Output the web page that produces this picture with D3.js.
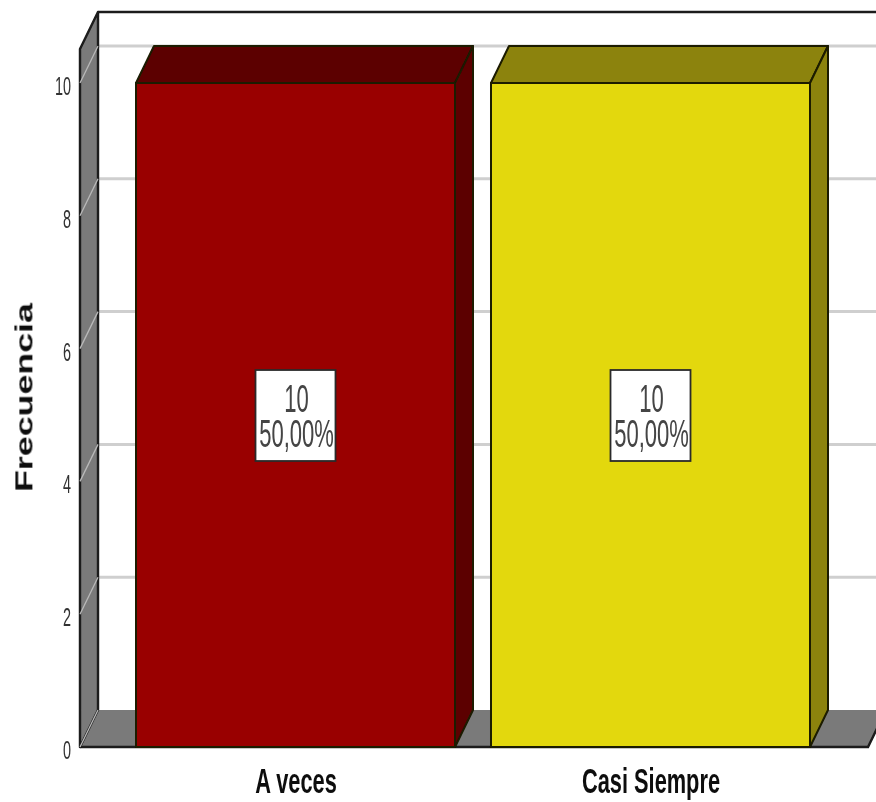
<!DOCTYPE html>
<html><head><meta charset="utf-8">
<script src="https://cdn.jsdelivr.net/npm/d3@7"></script>
<style>html,body{margin:0;padding:0;background:#fff}svg{display:block}text{font-family:"Liberation Sans",Arial,sans-serif;font-size:20px}</style>
</head><body><div id="chart"></div>
<script>
const categories = ["A veces", "Casi Siempre"];
const frequencies = [10, 10];
const percentLabels = ["50,00%", "50,00%"];
const tickValues = [0, 2, 4, 6, 8, 10];
const axisTitle = "Frecuencia";
const frontColors = ["#990000", "#e3d80f"];
const shadeColors = ["#5c0000", "#8c830a"];

const W = 876, H = 802, dx = 18, dy = -37;
const svg = d3.select("#chart").append("svg").attr("width", W).attr("height", H);
const defs = svg.append("defs");
defs.append("filter").attr("id", "soft").attr("x", "-5%").attr("y", "-5%").attr("width", "110%").attr("height", "110%")
  .append("feGaussianBlur").attr("stdDeviation", 0.5);
const root = svg.append("g").attr("filter", "url(#soft)");

const y = d3.scaleLinear().domain([0, 10]).range([747, 83]);
const x = d3.scaleBand().domain(categories).range([136, 810]).paddingInner(0.1014).paddingOuter(0);
const left = 80, floorEnd = 868;
const poly = pts => "M" + pts.map(p => p.join(",")).join("L") + "Z";
const line = d3.line();
const stroke = "#1a1a1a";

// back gridlines
root.selectAll("line.grid").data(tickValues.filter(d => d > 0)).join("line")
  .attr("class", "grid").attr("x1", left + dx).attr("x2", W + 10)
  .attr("y1", d => y(d) + dy).attr("y2", d => y(d) + dy)
  .attr("stroke", "#cfcfcf").attr("stroke-width", 3);

// floor
root.append("path").attr("d", poly([[left, y(0)], [left + dx, y(0) + dy], [floorEnd + dx, y(0) + dy], [floorEnd, y(0)]]))
  .attr("fill", "#7a7a7a");
root.append("path").attr("d", line([[floorEnd + dx, y(0) + dy], [floorEnd, y(0)], [left, y(0)]]))
  .attr("fill", "none").attr("stroke", stroke).attr("stroke-width", 2.4);

// left wall
const wallTop = y(10) - 34;
root.append("path").attr("d", poly([[left, y(0)], [left, wallTop], [left + dx, wallTop + dy], [left + dx, y(0) + dy]]))
  .attr("fill", "#7a7a7a").attr("stroke", stroke).attr("stroke-width", 2.4).attr("stroke-linejoin", "round");
root.append("path").attr("d", line([[left + dx, wallTop + dy], [W + 10, wallTop + dy]]))
  .attr("fill", "none").attr("stroke", stroke).attr("stroke-width", 2.4);

// wall diagonals
root.selectAll("line.diag").data(tickValues).join("line")
  .attr("class", "diag").attr("x1", left).attr("x2", left + dx)
  .attr("y1", d => y(d)).attr("y2", d => y(d) + dy)
  .attr("stroke", "#b9b9b9").attr("stroke-width", 1.3);

// bars
const bars = root.selectAll("g.bar").data(categories).join("g").attr("class", "bar");
const bw = x.bandwidth();
bars.append("path").attr("d", (c, i) => poly([[x(c), y(frequencies[i])], [x(c) + dx, y(frequencies[i]) + dy], [x(c) + bw + dx, y(frequencies[i]) + dy], [x(c) + bw, y(frequencies[i])]]))
  .attr("fill", (c, i) => shadeColors[i]);
bars.append("path").attr("d", (c, i) => poly([[x(c) + bw, y(frequencies[i])], [x(c) + bw + dx, y(frequencies[i]) + dy], [x(c) + bw + dx, y(0) + dy], [x(c) + bw, y(0)]]))
  .attr("fill", (c, i) => shadeColors[i]);
bars.append("rect").attr("x", c => x(c)).attr("y", (c, i) => y(frequencies[i])).attr("width", bw).attr("height", (c, i) => y(0) - y(frequencies[i]))
  .attr("fill", (c, i) => frontColors[i]);
bars.selectAll("path,rect").attr("stroke", "#1a1a00").attr("stroke-width", 2).attr("stroke-linejoin", "round");

// data labels: one two-line text per bar
function stretched(sel, tx, ty, sx, sy, rot) {
  sel.attr("transform", `translate(${tx},${ty})` + (rot ? ` rotate(${rot})` : "") + ` scale(${sx},${sy})`);
}
bars.each(function (c, i) {
  const g = d3.select(this), cx = x(c) + bw / 2, cy = y(frequencies[i] / 2);
  g.append("rect").attr("x", cx - 40).attr("y", cy - 45).attr("width", 80).attr("height", 91)
    .attr("fill", "#fff").attr("stroke", "#2a2a2a").attr("stroke-width", 1.8);
  const t = g.append("text").attr("text-anchor", "middle").attr("fill", "#444")
    .call(stretched, cx + 1, cy - 3, 1.1, 1.9);
  t.append("tspan").attr("x", 0).attr("y", 0).text(frequencies[i]);
  t.append("tspan").attr("x", 0).attr("y", 18.4).text(percentLabels[i]);
});

// y tick labels
root.selectAll("text.tick").data(tickValues).join("text").attr("class", "tick")
  .text(d => d).attr("text-anchor", "end").attr("fill", "#333")
  .each(function (d) { d3.select(this).call(stretched, 71, y(d) + 12, 0.72, 1.25); });

// category labels
root.selectAll("text.cat").data(categories).join("text").attr("class", "cat")
  .text(d => d).attr("text-anchor", "middle").attr("font-weight", "bold").attr("fill", "#111")
  .each(function (d) { d3.select(this).call(stretched, x(d) + bw / 2 + 0.5, 793, 1.09, 1.75); });

// axis title
root.append("text").text(axisTitle).attr("text-anchor", "middle").attr("font-weight", "bold").attr("fill", "#111")
  .call(stretched, 32, 397.5, 1.79, 1.2, -90);
</script></body></html>
